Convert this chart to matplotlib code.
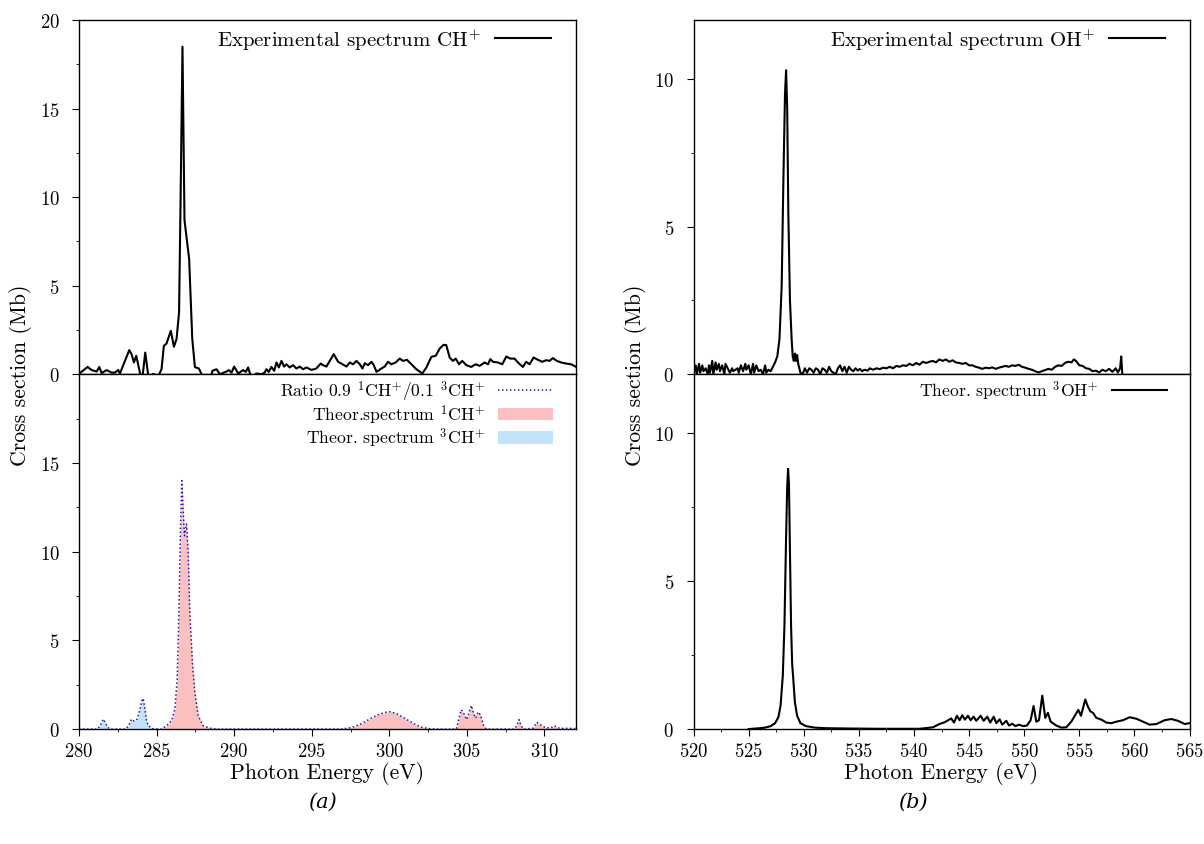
import numpy as np
import matplotlib
matplotlib.use("Agg")
import matplotlib.pyplot as plt
from matplotlib.patches import Patch
from matplotlib.lines import Line2D
from matplotlib.ticker import MultipleLocator, FixedLocator

plt.rcParams['font.family'] = 'cmr10'
plt.rcParams['mathtext.fontset'] = 'cm'
plt.rcParams['axes.formatter.use_mathtext'] = True
plt.rcParams['axes.unicode_minus'] = False

# CH+ experimental spectrum (eV, Mb)
ch_exp_ev = [280.0, 280.56, 280.82, 281.14, 281.31, 281.46, 281.78, 282.10, 282.32, 282.53,
             282.64, 283.24, 283.39, 283.54, 283.69, 283.95, 284.10, 284.27, 284.46, 284.6,
             284.75, 284.85, 285.0, 285.17, 285.32, 285.47, 285.64, 285.92, 286.12, 286.29,
             286.45, 286.55, 286.67, 286.8, 287.1, 287.3, 287.47, 287.73, 287.9, 288.1,
             288.45, 288.6, 288.86, 289.08, 289.51, 289.66, 289.83, 290.0, 290.26, 290.58,
             290.75, 290.9, 291.03, 291.2, 291.44, 291.76, 291.97, 292.08, 292.23, 292.4,
             292.58, 292.73, 292.88, 293.05, 293.22, 293.37, 293.58, 293.8, 294.01, 294.23,
             294.44, 294.66, 294.98, 295.3, 295.58, 295.73, 295.95, 296.16, 296.42, 296.7,
             296.91, 297.24, 297.45, 297.67, 297.88, 298.1, 298.27, 298.42, 298.63, 298.85,
             299.0, 299.17, 299.49, 299.7, 299.92, 300.13, 300.41, 300.67, 300.88, 301.14,
             301.42, 301.74, 302.13, 302.39, 302.71, 302.99, 303.25, 303.5, 303.67, 303.89,
             304.1, 304.28, 304.49, 304.7, 304.96, 305.28, 305.56, 305.82, 306.14, 306.36,
             306.51, 306.68, 307.0, 307.28, 307.54, 307.79, 308.07, 308.29, 308.61, 308.82,
             309.04, 309.3, 309.58, 309.85, 310.11, 310.33, 310.54, 310.8, 311.08, 311.4,
             311.72, 312.0]
ch_exp_mb = [0.02, 0.41, 0.23, 0.15, 0.41, 0.06, 0.23, 0.09, 0.09, 0.24,
             0.04, 1.36, 1.13, 0.66, 1.04, 0.0, -0.1, 1.22, -0.05, -0.2,
             0.0, 0.0, -0.2, 0.0, 0.28, 1.6, 1.73, 2.45, 1.55, 2.0,
             3.5, 10.0, 18.5, 8.7, 6.5, 2.0, 0.4, 0.32, 0.0, -0.3,
             -0.3, 0.19, 0.28, 0.0, 0.15, 0.23, 0.09, 0.43, 0.04, 0.23,
             0.13, 0.38, 0.0, -0.1, 0.04, 0.0, 0.09, 0.28, 0.13, 0.41,
             0.19, 0.66, 0.38, 0.75, 0.43, 0.56, 0.38, 0.51, 0.32, 0.43,
             0.28, 0.38, 0.24, 0.32, 0.6, 0.51, 0.43, 0.75, 1.13, 0.70,
             0.6, 0.43, 0.66, 0.56, 0.75, 0.56, 0.32, 0.62, 0.51, 0.70,
             0.51, 0.13, 0.32, 0.43, 0.70, 0.56, 0.66, 0.88, 0.75, 0.81,
             0.56, 0.28, 0.04, 0.38, 0.98, 1.04, 1.45, 1.66, 1.64, 0.94,
             0.75, 0.88, 0.56, 0.75, 0.51, 0.41, 0.56, 0.47, 0.66, 0.56,
             0.85, 0.70, 0.66, 0.56, 1.0, 0.88, 0.88, 0.66, 0.41, 0.70,
             0.56, 0.94, 0.81, 0.70, 0.79, 0.75, 0.91, 0.75, 0.66, 0.60,
             0.56, 0.43]

# theoretical 1CH+ (singlet)
ch1_ev = [280.0, 285.3, 285.64, 285.96, 286.18, 286.33, 286.44, 286.54, 286.63, 286.71,
          286.8, 286.93, 287.04, 287.14, 287.32, 287.47, 287.68, 288.0, 288.43, 289.0,
          297.0, 297.6, 298.2, 298.8, 299.3, 299.6, 299.8, 300.0, 300.2, 300.5,
          300.9, 301.3, 301.7, 302.1, 302.6, 303.0, 304.32, 304.49, 304.64, 304.81,
          305.0, 305.18, 305.29, 305.44, 305.57, 305.72, 305.87, 306.08, 306.25, 308.08,
          308.23, 308.36, 308.5, 308.65, 309.26, 309.51, 309.73, 310.0, 310.37, 310.65,
          310.87, 311.19, 311.83, 312.0]
ch1_mb = [0.0, 0.0, 0.19, 0.47, 1.13, 2.8, 6.6, 11.3, 14.0, 12.4,
          10.9, 11.55, 9.95, 6.6, 3.6, 2.07, 0.75, 0.19, 0.05, 0.0,
          0.0, 0.1, 0.3, 0.6, 0.82, 0.9, 0.95, 0.98, 0.95, 0.85,
          0.65, 0.45, 0.25, 0.1, 0.02, 0.0, 0.0, 0.62, 1.09, 0.86,
          0.53, 1.05, 1.33, 0.86, 0.62, 0.96, 0.81, 0.19, 0.0, 0.0,
          0.24, 0.53, 0.19, 0.0, 0.05, 0.38, 0.24, 0.11, 0.05, 0.19,
          0.07, 0.04, 0.04, 0.03]

# theoretical 3CH+ (triplet)
ch3_ev = [280.0, 281.2, 281.4, 281.56, 281.7, 281.85, 282.0, 283.0, 283.2, 283.39,
          283.55, 283.71, 283.9, 284.05, 284.14, 284.25, 284.35, 284.46, 284.78, 285.2, 312.0]
ch3_mb = [0.0, 0.0, 0.25, 0.56, 0.35, 0.1, 0.0, 0.0, 0.2, 0.56,
          0.45, 0.5, 1.0, 1.6, 1.73, 1.1, 0.5, 0.19, 0.02, 0.0, 0.0]

# OH+ experimental spectrum
oh_exp_ev = [520.0, 520.2, 520.3, 520.5, 520.6, 520.8, 520.9, 521.1, 521.3, 521.4,
             521.5, 521.7, 521.8, 522.0, 522.1, 522.3, 522.4, 522.6, 522.8, 522.9,
             523.1, 523.3, 523.5, 523.6, 523.8, 524.0, 524.1, 524.3, 524.5, 524.7,
             524.8, 525.0, 525.2, 525.4, 525.5, 525.7, 525.9, 526.1, 526.3, 526.5,
             526.6, 526.8, 527.0, 527.2, 527.4, 527.6, 527.8, 528.0, 528.15, 528.3,
             528.4, 528.5, 528.6, 528.75, 528.9, 529.0, 529.1, 529.2, 529.3, 529.4,
             529.5, 529.7, 529.9, 530.1, 530.3, 530.5, 530.7, 530.9, 531.1, 531.3,
             531.5, 531.7, 531.9, 532.1, 532.3, 532.5, 532.7, 532.9, 533.1, 533.3,
             533.5, 533.7, 533.9, 534.1, 534.3, 534.5, 534.7, 534.9, 535.1, 535.3,
             535.5, 535.8, 536.0, 536.3, 536.6, 536.9, 537.2, 537.5, 537.8, 538.1,
             538.4, 538.7, 539.0, 539.3, 539.6, 539.9, 540.2, 540.5, 540.8, 541.1,
             541.4, 541.7, 542.0, 542.3, 542.6, 542.9, 543.2, 543.5, 543.8, 544.1,
             544.4, 544.7, 545.0, 545.3, 545.6, 545.9, 546.2, 546.5, 546.8, 547.1,
             547.4, 547.7, 548.0, 548.3, 548.6, 548.9, 549.2, 549.5, 549.8, 550.1,
             550.4, 550.7, 551.0, 551.3, 551.6, 551.9, 552.2, 552.5, 552.8, 553.1,
             553.4, 553.7, 554.0, 554.3, 554.5, 554.7, 555.0, 555.3, 555.6, 555.9,
             556.2, 556.5, 556.8, 557.1, 557.4, 557.7, 558.0, 558.3, 558.5, 558.7,
             558.8, 558.9]
oh_exp_mb = [0.0, 0.3, 0.0, 0.35, 0.05, 0.3, 0.1, 0.2, 0.0, 0.3,
             0.05, 0.45, 0.0, 0.4, 0.15, 0.35, 0.1, 0.3, 0.0, 0.35,
             0.2, 0.05, 0.2, 0.1, 0.15, 0.2, 0.05, 0.3, 0.1, 0.35,
             0.15, 0.3, 0.0, 0.35, 0.05, 0.3, 0.1, 0.15, 0.0, 0.3,
             0.05, 0.15, 0.1, 0.25, 0.4, 0.6, 1.2, 3.0, 6.5, 9.5,
             10.3, 9.0, 5.5, 2.5, 1.2, 0.6, 0.45, 0.7, 0.45, 0.65,
             0.35, 0.05, 0.0, 0.2, 0.05, 0.2, 0.15, 0.05, 0.2, 0.15,
             0.0, 0.2, 0.15, 0.05, 0.25, 0.1, 0.05, 0.0, 0.2, 0.3,
             0.1, 0.25, 0.05, 0.25, 0.15, 0.1, 0.2, 0.12, 0.18, 0.1,
             0.15, 0.12, 0.2, 0.15, 0.2, 0.17, 0.22, 0.2, 0.25, 0.2,
             0.28, 0.25, 0.3, 0.28, 0.35, 0.3, 0.38, 0.32, 0.42, 0.38,
             0.42, 0.45, 0.4, 0.5, 0.45, 0.5, 0.42, 0.47, 0.4, 0.38,
             0.35, 0.38, 0.3, 0.3, 0.25, 0.22, 0.18, 0.22, 0.2, 0.23,
             0.18, 0.22, 0.25, 0.28, 0.25, 0.3, 0.28, 0.32, 0.25, 0.22,
             0.18, 0.15, 0.1, 0.06, 0.1, 0.14, 0.18, 0.15, 0.25, 0.3,
             0.28, 0.38, 0.42, 0.4, 0.5, 0.45, 0.3, 0.28, 0.2, 0.18,
             0.1, 0.12, 0.06, 0.15, 0.1, 0.18, 0.08, 0.2, 0.06, 0.2,
             0.6, 0.0]

# theoretical 3OH+
oh_th_ev = [525.0, 526.0, 526.5, 527.0, 527.4, 527.7, 527.9, 528.1, 528.25, 528.4,
            528.5, 528.58, 528.66, 528.75, 528.85, 528.95, 529.05, 529.2, 529.4, 529.7,
            530.2, 531.0, 532.0, 534.0, 537.0, 540.51, 541.72, 542.3, 542.78, 543.38,
            543.63, 543.9, 544.14, 544.38, 544.62, 544.9, 545.14, 545.41, 545.65, 546.05,
            546.32, 546.65, 546.92, 547.23, 547.47, 547.77, 548.01, 548.38, 548.62, 548.92,
            549.22, 549.52, 549.89, 550.25, 550.58, 550.85, 551.1, 551.34, 551.64, 551.91,
            552.15, 552.4, 552.6, 552.91, 553.37, 553.82, 554.27, 554.67, 554.91, 555.15,
            555.54, 555.79, 556.0, 556.24, 556.54, 557.0, 557.45, 557.9, 558.36, 558.96,
            559.57, 560.17, 560.78, 561.38, 561.99, 562.74, 563.35, 563.95, 564.56, 565.0]
oh_th_mb = [0.0, 0.03, 0.05, 0.1, 0.2, 0.4, 0.8, 1.8, 3.5, 6.5,
            8.2, 8.8, 8.3, 6.0, 3.5, 2.2, 1.7, 0.9, 0.45, 0.2,
            0.1, 0.05, 0.03, 0.02, 0.01, 0.01, 0.06, 0.17, 0.23, 0.36,
            0.22, 0.45, 0.3, 0.47, 0.32, 0.45, 0.3, 0.42, 0.28, 0.45,
            0.28, 0.42, 0.22, 0.42, 0.2, 0.33, 0.15, 0.28, 0.12, 0.18,
            0.1, 0.15, 0.1, 0.12, 0.3, 0.78, 0.25, 0.3, 1.13, 0.38,
            0.55, 0.25, 0.2, 0.12, 0.05, 0.06, 0.25, 0.5, 0.65, 0.45,
            1.0, 0.75, 0.6, 0.55, 0.38, 0.32, 0.22, 0.2, 0.25, 0.3,
            0.4, 0.35, 0.25, 0.15, 0.17, 0.3, 0.34, 0.28, 0.17, 0.2]

# ratio 0.9 singlet / 0.1 triplet curve on common grid
ratio_ev = np.unique(np.concatenate([ch1_ev, ch3_ev]))
ratio_mb = np.interp(ratio_ev, ch1_ev, ch1_mb) + np.interp(ratio_ev, ch3_ev, ch3_mb)

red_fill = '#fbc0bf'
blue_fill = '#c3e3fa'
dot_blue = '#1c1ca8'

fig = plt.figure(figsize=(12.04, 8.45), dpi=100)
L, R = 0.0656, 0.478
L2, R2 = 0.576, 0.988
top, mid, bot = 0.975, 0.556, 0.136
ax1 = fig.add_axes([L, mid, R - L, top - mid])
ax2 = fig.add_axes([L, bot, R - L, mid - bot], sharex=ax1)
ax3 = fig.add_axes([L2, mid, R2 - L2, top - mid])
ax4 = fig.add_axes([L2, bot, R2 - L2, mid - bot], sharex=ax3)

ax1.plot(ch_exp_ev, ch_exp_mb, color='black', lw=1.5, label=r'Experimental spectrum CH$^{+}$')
ax2.fill_between(ch3_ev, 0, ch3_mb, color=blue_fill, lw=0)
ax2.fill_between(ch1_ev, 0, ch1_mb, color=red_fill, lw=0)
ax2.plot(ratio_ev, ratio_mb, color=dot_blue, lw=1.1, ls=(0, (1, 1.6)))
ax3.plot(oh_exp_ev, oh_exp_mb, color='black', lw=1.5, label=r'Experimental spectrum OH$^{+}$')
ax4.plot(oh_th_ev, oh_th_mb, color='black', lw=1.5, label=r'Theor. spectrum $^{3}$OH$^{+}$')

ax1.set_ylim(0, 20)
ax2.set_ylim(0, 20)
ax1.yaxis.set_major_locator(FixedLocator([0, 5, 10, 15, 20]))
ax2.yaxis.set_major_locator(FixedLocator([0, 5, 10, 15]))
ax1.set_xlim(280, 312)
for ax in (ax3, ax4):
    ax.set_ylim(0, 12)
    ax.yaxis.set_major_locator(FixedLocator([0, 5, 10]))
ax3.set_xlim(520, 565)

for ax in (ax1, ax2, ax3, ax4):
    ax.xaxis.set_major_locator(MultipleLocator(5))
    ax.xaxis.set_minor_locator(MultipleLocator(2.5))
    ax.yaxis.set_minor_locator(MultipleLocator(2.5))
    ax.tick_params(which='major', direction='out', length=5, width=0.8, labelsize=13.5)
    ax.tick_params(which='minor', direction='out', length=2.5, width=0.6)
    ax.tick_params(axis='y', which='major', pad=9)
    ax.tick_params(axis='x', which='major', pad=4)
    for s in ax.spines.values():
        s.set_linewidth(1.0)
for ax in (ax1, ax3):
    ax.tick_params(axis='x', which='both', labelbottom=False, length=0)

ax1.legend(fontsize=15, loc='upper right', bbox_to_anchor=(0.968, 1.005), borderaxespad=0,
           frameon=False, markerfirst=False, handlelength=2.7, handletextpad=0.67)
ax3.legend(fontsize=15, loc='upper right', bbox_to_anchor=(0.968, 1.005), borderaxespad=0,
           frameon=False, markerfirst=False, handlelength=2.7, handletextpad=0.67)
ax4.legend(fontsize=12.7, loc='upper right', bbox_to_anchor=(0.968, 1.008), borderaxespad=0,
           frameon=False, markerfirst=False, handlelength=3.1, handletextpad=0.75)
handles = [Line2D([], [], color=dot_blue, lw=1.1, ls=(0, (1, 1.6))),
           Patch(facecolor=red_fill, edgecolor='none'),
           Patch(facecolor=blue_fill, edgecolor='none')]
labels = [r'Ratio 0.9 $^{1}$CH$^{+}$/0.1 $^{3}$CH$^{+}$',
          r'Theor.spectrum $^{1}$CH$^{+}$',
          r'Theor. spectrum $^{3}$CH$^{+}$']
ax2.legend(handles, labels, fontsize=12.7, loc='upper right', bbox_to_anchor=(0.968, 1.008),
           borderaxespad=0, frameon=False, markerfirst=False, handlelength=3.1,
           handletextpad=0.75, labelspacing=0.0)

for ax in (ax2, ax4):
    ax.set_xlabel('Photon Energy (eV)', fontsize=15.7, labelpad=1)
fig.text(0.017, mid, 'Cross section (Mb)', rotation=90, va='center', ha='center', fontsize=15.7)
fig.text(0.528, mid, 'Cross section (Mb)', rotation=90, va='center', ha='center', fontsize=15.7)
fig.text(0.268, 0.05, '(a)', ha='center', va='center', fontsize=15,
         family='DejaVu Serif', style='italic')
fig.text(0.758, 0.05, '(b)', ha='center', va='center', fontsize=15,
         family='DejaVu Serif', style='italic')

fig.savefig('out.png', dpi=100)
